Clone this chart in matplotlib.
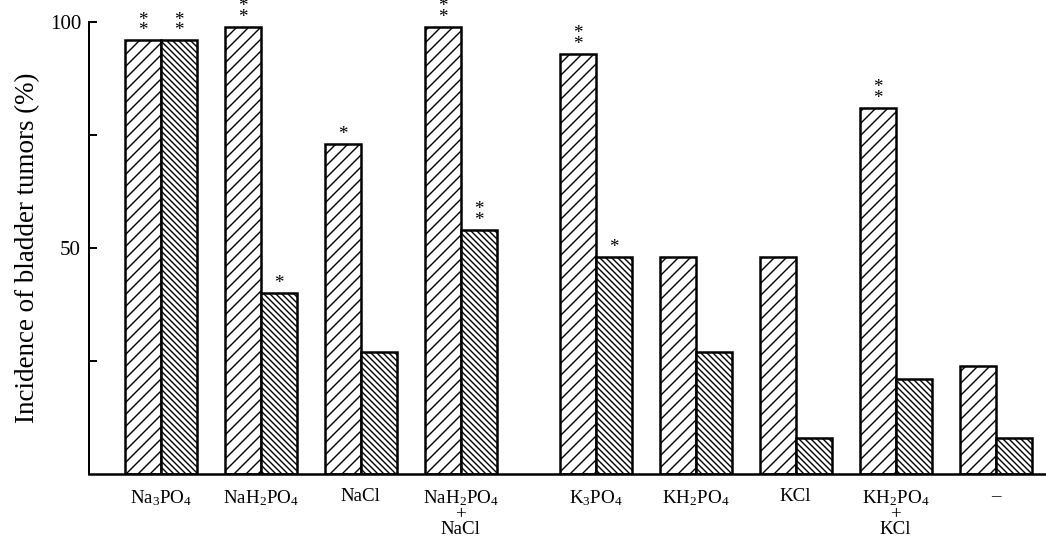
import matplotlib
matplotlib.use("Agg")
import matplotlib.pyplot as plt
import numpy as np

categories = ["$\\mathrm{Na_3PO_4}$", "$\\mathrm{NaH_2PO_4}$", "NaCl",
              "$\\mathrm{NaH_2PO_4}$\n+\nNaCl", "$\\mathrm{K_3PO_4}$",
              "$\\mathrm{KH_2PO_4}$", "KCl", "$\\mathrm{KH_2PO_4}$\n+\nKCl", "\u2013"]
series1 = [96, 99, 73, 99, 93, 48, 48, 81, 24]
series2 = [96, 40, 27, 54, 48, 27, 8, 21, 8]
stars1 = ["**", "**", "*", "**", "**", "", "", "**", ""]
stars2 = ["**", "*", "", "**", "*", "", "", "", ""]
yticks = [25, 50, 75, 100]
yticklabels = ["", "50", "", "100"]

plt.rcParams["font.family"] = ["Liberation Serif", "DejaVu Serif"]
plt.rcParams["mathtext.fontset"] = "custom"
plt.rcParams["mathtext.rm"] = "Liberation Serif"
plt.rcParams["mathtext.it"] = "Liberation Serif:italic"
plt.rcParams["hatch.linewidth"] = 1.4

DPI = 72
fig = plt.figure(figsize=(1046 / DPI, 543 / DPI), dpi=DPI)
ax = fig.add_axes([89 / 1046, 69 / 543, 957 / 1046, 452 / 543])

pos = np.array([0, 1, 2, 3, 4.35, 5.35, 6.35, 7.35, 8.35])
w = 0.36
b1 = ax.bar(pos - w / 2, series1, w, facecolor="white", edgecolor="black",
            linewidth=2.5, hatch="//")
b2 = ax.bar(pos + w / 2, series2, w, facecolor="white", edgecolor="black",
            linewidth=2.5, hatch="\\\\\\\\")

for x, h, s in zip(pos - w / 2, series1, stars1):
    if s:
        ax.annotate("\n".join(s), (x, h), xytext=(0, 1), textcoords="offset points",
                    ha="center", va="bottom", fontsize=19, linespacing=0.5)
for x, h, s in zip(pos + w / 2, series2, stars2):
    if s:
        ax.annotate("\n".join(s), (x, h), xytext=(0, 1), textcoords="offset points",
                    ha="center", va="bottom", fontsize=19, linespacing=0.5)

ax.set_xlim(-0.717, -0.717 + 9.57)
ax.set_ylim(0, 100)
ax.set_yticks(yticks)
ax.set_yticklabels(yticklabels, fontsize=21)
ax.tick_params(axis="y", direction="in", length=8, width=2, pad=8)
ax.set_xticks(pos)
ax.set_xticklabels(categories, fontsize=19, linespacing=0.85)
ax.tick_params(axis="x", length=0, pad=14)
ax.set_ylabel("Incidence of bladder tumors (%)", fontsize=27, labelpad=10)

for s in ["top", "right"]:
    ax.spines[s].set_visible(False)
ax.spines["left"].set_linewidth(2)
ax.spines["bottom"].set_linewidth(2.5)
ax.spines["left"].set_zorder(5)

fig.savefig("out.png", dpi=DPI)
